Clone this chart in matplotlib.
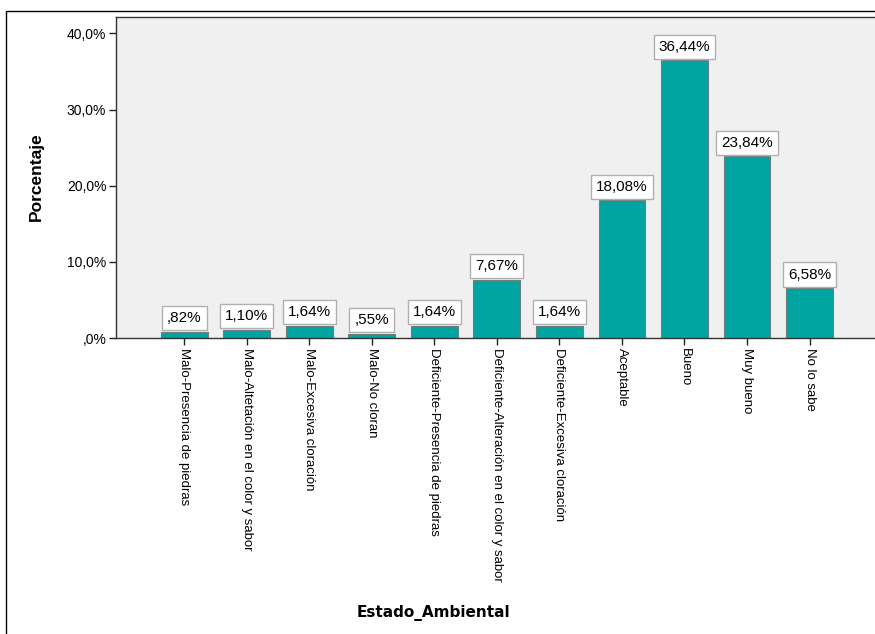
import matplotlib.pyplot as plt
from matplotlib.patches import Rectangle

# Estado_Ambiental frequencies (percent)
categorias = ['Malo-Presencia de piedras', 'Malo-Altetación en el color y sabor',
              'Malo-Excesiva cloración', 'Malo-No cloran',
              'Deficiente-Presencia de piedras', 'Deficiente-Alteración en el color y sabor',
              'Deficiente-Excesiva cloración', 'Aceptable', 'Bueno', 'Muy bueno', 'No lo sabe']
porcentajes = [0.82, 1.10, 1.64, 0.55, 1.64, 7.67, 1.64, 18.08, 36.44, 23.84, 6.58]
yticks = [0, 10, 20, 30, 40]
ytick_labels = [',0%', '10,0%', '20,0%', '30,0%', '40,0%']


def etiqueta(v):
    s = f'{v:.2f}'.replace('.', ',')
    if s.startswith('0'):
        s = s[1:]
    return s + '%'


plt.rcParams['font.family'] = ['Liberation Sans', 'DejaVu Sans']

fig = plt.figure(figsize=(8.75, 6.34), dpi=100)
fig.patches.append(Rectangle((6 / 875, -0.1), 1.2, 1 - 11 / 634 + 0.1, transform=fig.transFigure,
                             fill=False, edgecolor='black', linewidth=1.0))

ax = fig.add_axes([116 / 875, 1 - 338 / 634, 1 - 116 / 875 + 0.001, (338 - 17) / 634])
ax.set_facecolor('#F0F0F0')

x = list(range(len(categorias)))
ax.bar(x, porcentajes, width=0.75, color='#00A5A2', edgecolor='#6E7F7F', linewidth=0.8, zorder=2)

for xi, v in zip(x, porcentajes):
    ax.annotate(etiqueta(v), (xi, v), xytext=(0, 4.6), textcoords='offset points',
                ha='center', va='bottom', fontsize=11, zorder=3,
                bbox=dict(boxstyle='square,pad=0.33', facecolor='white', edgecolor='#B0B0B0', linewidth=1))

ax.set_xlim(-1.09, 11.06)
ax.set_ylim(0, 42.15)
ax.set_xticks(x)
ax.set_xticklabels(categorias, rotation=270, fontsize=9.5, va='top', ha='center')
ax.set_yticks(yticks)
ax.set_yticklabels(ytick_labels, fontsize=10)
ax.tick_params(axis='both', direction='out', length=5, width=1, color='#222222', pad=2)

for side in ['left', 'bottom', 'top']:
    ax.spines[side].set_color('#333333')
    ax.spines[side].set_linewidth(1)
ax.spines['right'].set_visible(False)

fig.text(36 / 875, 1 - 177 / 634, 'Porcentaje', rotation=90, ha='center', va='center',
         fontsize=12.5, fontweight='bold')
fig.text(433 / 875, 1 - 613 / 634, 'Estado_Ambiental', ha='center', va='center',
         fontsize=11, fontweight='bold', family='DejaVu Sans')

fig.savefig('out.png', dpi=100)
